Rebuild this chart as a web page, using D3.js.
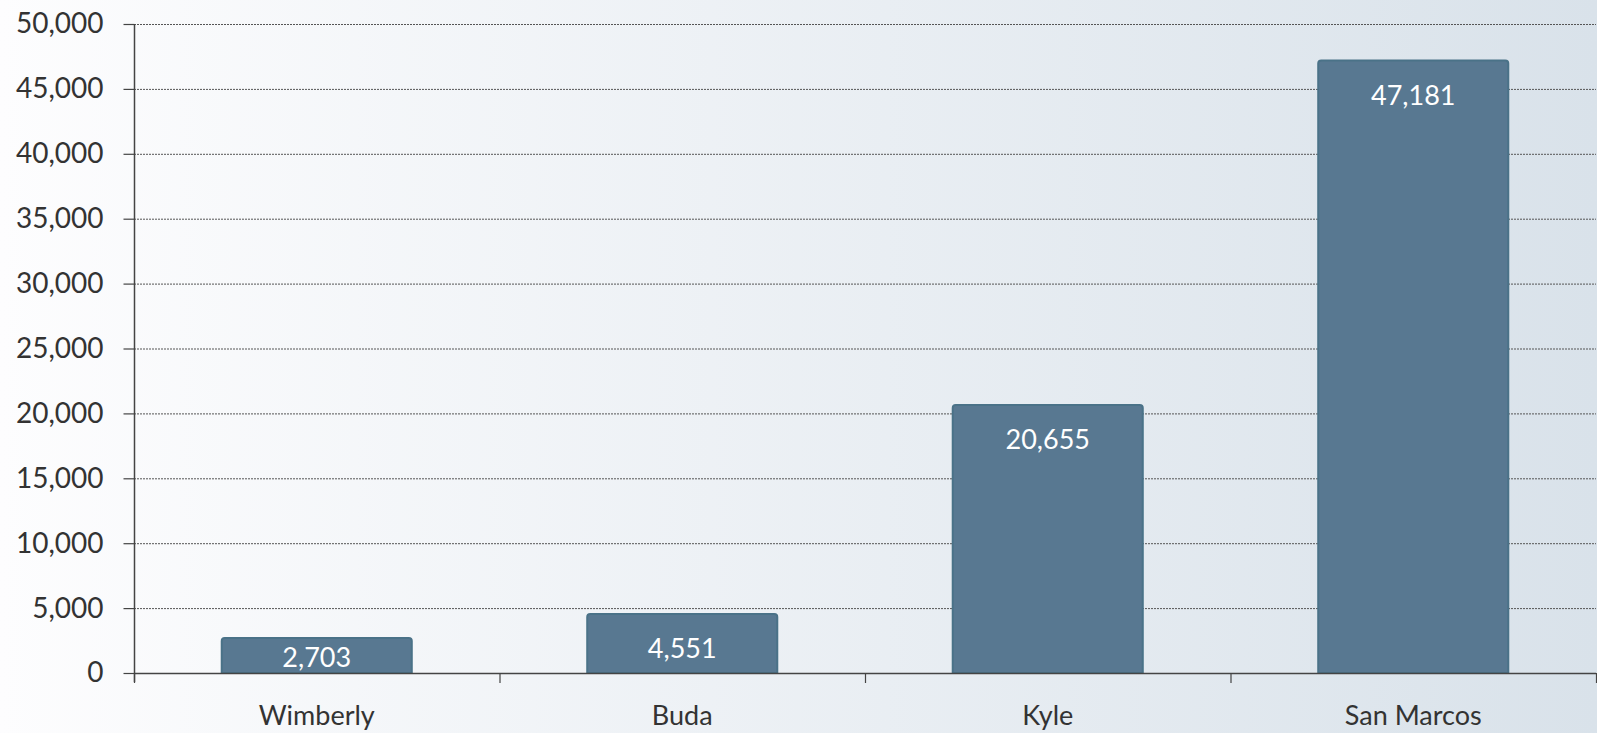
<!DOCTYPE html>
<html>
<head>
<meta charset="utf-8">
<script src="https://cdn.jsdelivr.net/npm/d3@7"></script>
<style>
  body { margin: 0; overflow: hidden; }
  svg { display: block; }
</style>
</head>
<body>
<div id="chart"></div>
<script>
// city populations
var cities = ["Wimberly", "Buda", "Kyle", "San Marcos"];
var population = [2703, 4551, 20655, 47181];
var yTicks = [0, 5000, 10000, 15000, 20000, 25000, 30000, 35000, 40000, 45000, 50000];

var W = 1597, H = 733;
var plotLeft = 134, plotRight = 1596, plotTop = 24, plotBottom = 673;
var fontFam = "Lato, 'Open Sans', sans-serif";

var svg = d3.select("#chart").append("svg")
  .attr("width", W)
  .attr("height", H);

// background gradient, whiteish on left to pale blue-grey on right
var grad = svg.append("defs").append("linearGradient")
  .attr("id", "bg")
  .attr("x1", 0).attr("x2", 1).attr("y1", 0).attr("y2", 0);
grad.append("stop").attr("offset", "0%").attr("stop-color", "#fdfdfe");
grad.append("stop").attr("offset", "100%").attr("stop-color", "#d9e2ea");

svg.append("rect")
  .attr("width", W)
  .attr("height", H)
  .attr("fill", "url(#bg)");

var x = d3.scaleBand()
  .domain(cities)
  .range([plotLeft, plotRight])
  .paddingInner(0.48)
  .paddingOuter(0.24);

var y = d3.scaleLinear()
  .domain([0, 50000])
  .range([plotBottom, plotTop]);

// grid lines
svg.append("g")
  .selectAll("line")
  .data(yTicks.filter(d => d > 0))
  .enter().append("line")
    .attr("x1", plotLeft)
    .attr("x2", plotRight)
    .attr("y1", d => y(d) + 0.5)
    .attr("y2", d => y(d) + 0.5)
    .attr("stroke", "#555")
    .attr("stroke-width", 1)
    .attr("stroke-dasharray", "2,1");

// y axis
var yAxis = svg.append("g")
  .attr("transform", "translate(" + (plotLeft + 0.5) + ",0)")
  .call(d3.axisLeft(y).tickValues(yTicks).tickSize(11).tickPadding(20)
    .tickFormat(d3.format(",")));
yAxis.select(".domain").attr("stroke", "#444").attr("stroke-width", 1.5)
  .attr("d", "M0," + plotTop + "V" + (plotBottom + 9));
yAxis.selectAll(".tick line").attr("stroke", "#444").attr("stroke-width", 1.2);
yAxis.selectAll(".tick text")
  .attr("font-family", fontFam)
  .attr("font-size", 28)
  .attr("fill", "#333");

// bars
var bars = svg.append("g")
  .selectAll("g")
  .data(cities)
  .enter().append("g");

bars.append("path")
  .attr("d", (d, i) => {
    var x0 = x(d), w = x.bandwidth(), y0 = y(population[i]), r = 3;
    return "M" + x0 + "," + plotBottom + "V" + (y0 + r) + "Q" + x0 + "," + y0 + " " + (x0 + r) + "," + y0 +
      "H" + (x0 + w - r) + "Q" + (x0 + w) + "," + y0 + " " + (x0 + w) + "," + (y0 + r) + "V" + plotBottom + "Z";
  })
  .attr("fill", "#587891")
  .attr("stroke", "#4a7288")
  .attr("stroke-width", 2);

// value labels
bars.append("text")
  .attr("x", d => x(d) + x.bandwidth() / 2)
  .attr("y", (d, i) => Math.min(y(population[i]) + 44, plotBottom - 6))
  .attr("text-anchor", "middle")
  .attr("font-family", fontFam)
  .attr("font-size", 27)
  .attr("fill", "#fff")
  .text((d, i) => d3.format(",")(population[i]));

// x axis
svg.append("line")
  .attr("x1", plotLeft).attr("x2", plotRight)
  .attr("y1", plotBottom + 0.5).attr("y2", plotBottom + 0.5)
  .attr("stroke", "#444").attr("stroke-width", 1.5);

var bounds = d3.range(cities.length + 1).map(i => plotLeft + i * (plotRight - plotLeft) / cities.length);
svg.append("g")
  .selectAll("line")
  .data(bounds)
  .enter().append("line")
    .attr("x1", d => d + 0.5).attr("x2", d => d + 0.5)
    .attr("y1", plotBottom).attr("y2", plotBottom + 10)
    .attr("stroke", "#444").attr("stroke-width", 1.2);

svg.append("g")
  .selectAll("text")
  .data(cities)
  .enter().append("text")
    .attr("x", d => x(d) + x.bandwidth() / 2)
    .attr("y", 725)
    .attr("text-anchor", "middle")
    .attr("font-family", fontFam)
    .attr("font-size", 27)
    .attr("fill", "#333")
    .text(d => d);
</script>
</body>
</html>
